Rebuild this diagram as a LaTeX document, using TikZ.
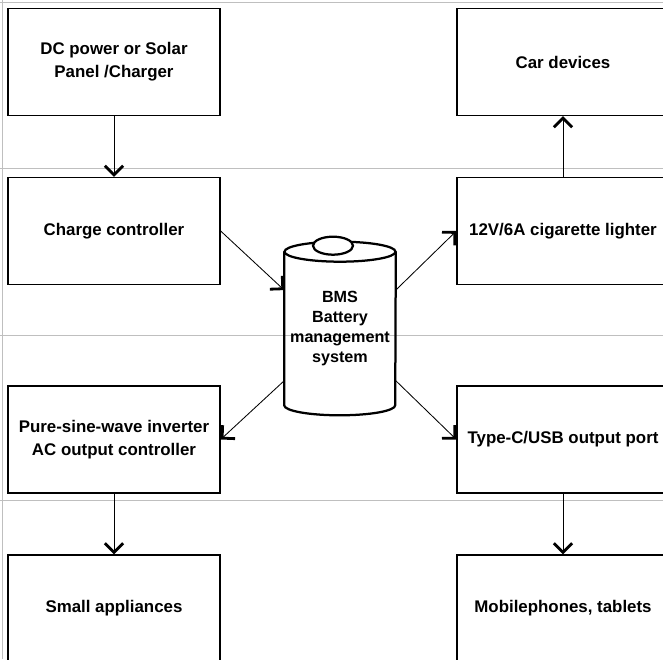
\documentclass[tikz,border=0pt]{standalone}
\usepackage{fontspec}
\setmainfont{Liberation Sans}
\usetikzlibrary{arrows.meta,calc}

\begin{document}
\begin{tikzpicture}[x=0.025cm,y=0.025cm,
    box/.style={draw,line width=0.9pt,minimum width=5.3cm,minimum height=2.675cm,align=center},
    flow/.style={-{Straight Barb[length=6.5pt,width=13pt,line width=2pt]},line width=0.6pt},
    every node/.style={font=\bfseries\fontsize{12}{16.3}\selectfont}]
    \useasboundingbox (0,0) rectangle (663,659);
    \clip (0,0) rectangle (663,659);

    % background lines
    \foreach \y in {656.5,491,324,159}
    {
        \draw[black!25,line width=0.5pt] (0,\y) -- (663,\y);
    }
    \draw[black!25,line width=0.5pt] (2.5,0) -- (2.5,659);

    \node[box] (dc) at (114,597) {DC power or Solar\\Panel /Charger};
    \node[box] (cc) at (114,428) {Charge controller};
    \node[box] (inv) at (114,219.5) {Pure-sine-wave inverter\\AC output controller};
    \node[box] (small) at (114,50.5) {Small appliances};

    \node[box] (car) at (563,597) {Car devices};
    \node[box] (lighter) at (563,428) {12V/6A cigarette lighter};
    \node[box] (usb) at (563,219.5) {Type-C/USB output port};
    \node[box] (mobile) at (563,50.5) {Mobilephones, tablets};

    % battery
    \node[minimum width=2.775cm,minimum height=3.825cm,inner sep=0pt,align=center,
        font=\bfseries\fontsize{11.5}{14.2}\selectfont] (bms) at (340,330.5)
        {BMS\\Battery\\management\\system};
    \draw[line width=1.6pt] (bms.north west) -- (bms.south west)
        arc[start angle=180,end angle=360,x radius=55.5,y radius=10] -- (bms.north east);
    \draw[line width=1.6pt] (bms.north) ellipse[x radius=55.5,y radius=10];
    \draw[line width=1.6pt,fill=white] ($(bms.north)+(-7,6)$) ellipse[x radius=20,y radius=9];

    \draw[flow] (dc) -- (cc);
    \draw[flow] (lighter) -- (car);
    \draw[flow] (inv) -- (small);
    \draw[flow] (usb) -- (mobile);

    \draw[flow] (cc.east) -- ($(bms.north west)!0.25!(bms.south west)$);
    \draw[flow] ($(bms.north east)!0.25!(bms.south east)$) -- (lighter.west);
    \draw[flow] ($(bms.north west)!0.84!(bms.south west)$) -- (inv.east);
    \draw[flow] ($(bms.north east)!0.84!(bms.south east)$) -- (usb.west);

\end{tikzpicture}
\end{document}
